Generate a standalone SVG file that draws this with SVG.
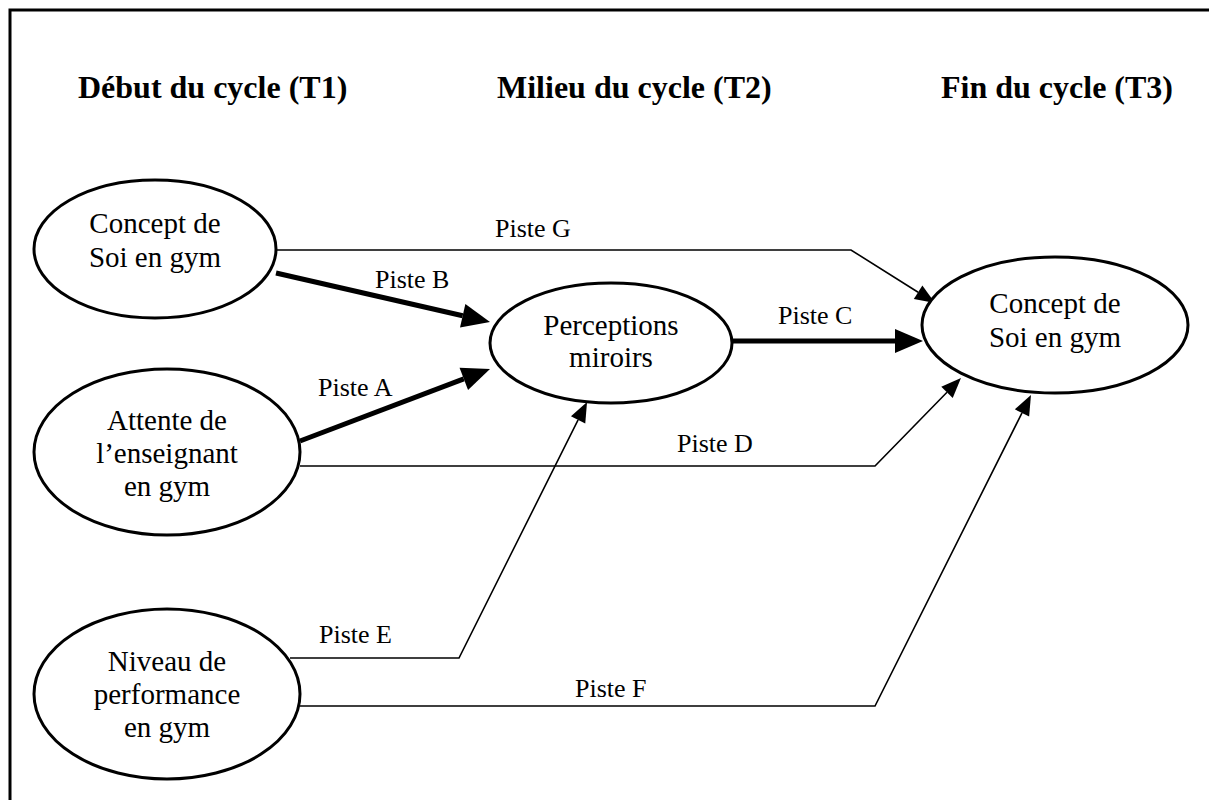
<svg xmlns="http://www.w3.org/2000/svg" width="1209" height="800" viewBox="0 0 1209 800">
  <style>
    .frame { stroke: #000; stroke-width: 3; fill: none; }
    .node ellipse { fill: #fff; stroke: #000; stroke-width: 3; }
    .node text { font-family: "Liberation Serif", "Times New Roman", serif; font-size: 29px; fill: #000; text-anchor: middle; }
    .head { font-family: "Liberation Serif", "Times New Roman", serif; font-size: 32px; font-weight: bold; fill: #000; }
    .lbl { font-family: "Liberation Serif", "Times New Roman", serif; font-size: 26px; fill: #000; }
    .thick { stroke: #000; stroke-width: 5; fill: none; marker-end: url(#bigArrow); }
    .thin { stroke: #000; stroke-width: 1.6; fill: none; marker-end: url(#smallArrow); stroke-linejoin: miter; }
  </style>
  <defs>
    <marker id="bigArrow" markerUnits="userSpaceOnUse" markerWidth="30" markerHeight="26" refX="0" refY="0" orient="auto" overflow="visible">
      <path d="M0,-12 L28,0 L0,12 z" fill="#000"/>
    </marker>
    <marker id="smallArrow" markerUnits="userSpaceOnUse" markerWidth="22" markerHeight="18" refX="0" refY="0" orient="auto" overflow="visible">
      <path d="M0,-8 L20,0 L0,8 z" fill="#000"/>
    </marker>
  </defs>

  <rect width="1209" height="800" fill="#fff"/>
  <!-- outer frame: left and top edges -->
  <path class="frame" d="M10,800 L10,10 L1209,10"/>

  <!-- column headings -->
  <text class="head" x="78" y="98">Début du cycle (T1)</text>
  <text class="head" x="497" y="98">Milieu du cycle (T2)</text>
  <text class="head" x="941" y="98">Fin du cycle (T3)</text>

  <!-- connectors -->
  <g id="connectors">
    <path class="thin" d="M276,250 L851,250 L918.1,292.3"/>
    <path class="thick" d="M276,273 L462.7,315.8"/>
    <path class="thick" d="M300,441 L463.8,378.9"/>
    <path class="thick" d="M732,341 L895,341"/>
    <path class="thin" d="M300,466 L875,466 L947,392.3"/>
    <path class="thin" d="M290,658 L459,658 L578.1,419.9"/>
    <path class="thin" d="M300,706 L875,706 L1022,412.9"/>

    <text class="lbl" x="495" y="237">Piste G</text>
    <text class="lbl" x="375" y="288">Piste B</text>
    <text class="lbl" x="318" y="396">Piste A</text>
    <text class="lbl" x="778" y="324">Piste C</text>
    <text class="lbl" x="677" y="452">Piste D</text>
    <text class="lbl" x="319" y="643">Piste E</text>
    <text class="lbl" x="575" y="697">Piste F</text>
  </g>

  <!-- nodes -->
  <g id="soi-t1" class="node">
    <ellipse cx="155" cy="249" rx="121" ry="69"/>
    <text x="155" y="233">Concept de</text>
    <text x="155" y="267">Soi en gym</text>
  </g>
  <g id="attente" class="node">
    <ellipse cx="167" cy="452" rx="133" ry="83"/>
    <text x="167" y="430">Attente de</text>
    <text x="167" y="463">l’enseignant</text>
    <text x="167" y="496">en gym</text>
  </g>
  <g id="niveau" class="node">
    <ellipse cx="167" cy="694" rx="133" ry="85"/>
    <text x="167" y="671">Niveau de</text>
    <text x="167" y="704">performance</text>
    <text x="167" y="737">en gym</text>
  </g>
  <g id="perceptions" class="node">
    <ellipse cx="611" cy="343" rx="121" ry="60"/>
    <text x="611" y="335">Perceptions</text>
    <text x="611" y="367">miroirs</text>
  </g>
  <g id="soi-t3" class="node">
    <ellipse cx="1055" cy="325" rx="133" ry="68"/>
    <text x="1055" y="313">Concept de</text>
    <text x="1055" y="347">Soi en gym</text>
  </g>
</svg>
